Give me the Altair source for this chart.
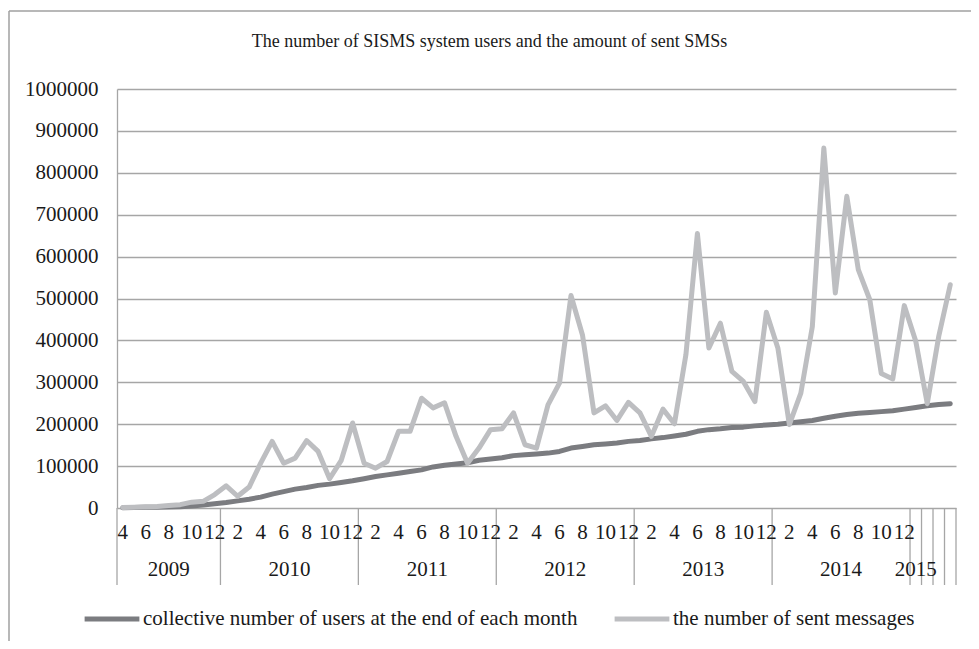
import altair as alt
import pandas as pd

# ---------------- data (Apr 2009 .. Apr 2015, 73 months) ----------------
users_label = "collective number of users at the end of each month"
msg_label = "the number of sent messages"

users = [
    500, 1000, 1500, 2000, 2500, 3000, 5000, 7000, 10000,                      # 2009 Apr-Dec
    13000, 17000, 21000, 26000, 33000, 39000, 45000, 49000, 54000, 57000, 61000, 65000,   # 2010
    70000, 75000, 79000, 83000, 87000, 91000, 98000, 102000, 105000, 108000, 114000, 117000,  # 2011
    120000, 125000, 127000, 129000, 131000, 135000, 143000, 147000, 151000, 153000, 155000, 159000,  # 2012
    161000, 165000, 168000, 172000, 176000, 183000, 187000, 189000, 192000, 193000, 196000, 198000,  # 2013
    200000, 203000, 206000, 209000, 214000, 219000, 223000, 226000, 228000, 230000, 232000, 236000,  # 2014
    240000, 244000, 247000, 249000,                                              # 2015 Jan-Apr
]

messages = [
    1000, 2000, 3000, 3500, 6000, 8000, 14000, 16000, 32000,
    53000, 28000, 50000, 107000, 159000, 107000, 119000, 161000, 135000, 70000, 113000, 203000,
    107000, 95000, 111000, 183000, 183000, 262000, 239000, 251000, 171000, 107000, 143000, 187000,
    189000, 227000, 151000, 143000, 246000, 298000, 507000, 413000, 227000, 244000, 209000, 252000,
    227000, 171000, 236000, 201000, 366000, 655000, 382000, 441000, 326000, 302000, 254000, 467000,
    382000, 199000, 274000, 433000, 859000, 513000, 744000, 569000, 497000, 321000, 308000, 483000,
    398000, 249000, 410000, 533000,
]

# shown month tick labels (every other category) and their category index
month_label_pos = [0, 2, 4, 6, 8, 10, 12, 14, 16, 18, 20, 22, 24, 26, 28, 30, 32,
                   34, 36, 38, 40, 42, 44, 46, 48, 50, 52, 54, 56, 58, 60, 62, 64, 66, 68]
month_labels = ["4", "6", "8", "10", "12",
                "2", "4", "6", "8", "10", "12",
                "2", "4", "6", "8", "10", "12",
                "2", "4", "6", "8", "10", "12",
                "2", "4", "6", "8", "10", "12",
                "2", "4", "6", "8", "10", "12"]

years = ["2009", "2010", "2011", "2012", "2013", "2014", "2015"]
year_pos = [4.0, 14.5, 26.5, 38.5, 50.5, 62.5, 69.0]

# group separators of the multi-level category axis
separators = [-0.5, 8.5, 20.5, 32.5, 44.5, 56.5, 68.5, 69.5, 70.5, 71.5, 72.5]

y_ticks = [0, 100000, 200000, 300000, 400000, 500000, 600000, 700000, 800000, 900000, 1000000]

# ---------------- chart ----------------
W, H = 839, 419
FONT = "Liberation Serif"
TXT = "#1a1a1a"
GRID = "#a6a6a6"

n = len(users)
df = pd.DataFrame({
    "idx": list(range(n)) * 2,
    "series": [users_label] * n + [msg_label] * n,
    "value": users + messages,
})

x_scale = alt.Scale(domain=[-0.5, 72.5], nice=False, zero=False)
y_scale = alt.Scale(domain=[0, 1000000], nice=False)

lines = alt.Chart(df).mark_line(
    strokeWidth=5, strokeCap="round", strokeJoin="round"
).encode(
    x=alt.X("idx:Q", scale=x_scale, axis=None),
    y=alt.Y("value:Q", scale=y_scale,
            axis=alt.Axis(values=y_ticks, format="d", title=None, grid=True, gridColor=GRID,
                          gridWidth=1.3, domainColor=GRID, domainWidth=1.3, ticks=False,
                          labelPadding=19, labelFont=FONT, labelFontSize=21, labelColor=TXT)),
    color=alt.Color(
        "series:N",
        scale=alt.Scale(domain=[users_label, msg_label], range=["#7b7c80", "#bdbec1"]),
        legend=alt.Legend(
            title=None, orient="none", legendX=-35, legendY=500, direction="horizontal",
            symbolType="stroke", symbolSize=3000, symbolStrokeWidth=5,
            labelFont=FONT, labelFontSize=21, labelColor=TXT, labelLimit=700,
            columnPadding=26, labelOffset=1,
        ),
    ),
)

sep_df = pd.DataFrame({"idx": separators})
seps = alt.Chart(sep_df).mark_rule(color=GRID, strokeWidth=1.3).encode(
    x=alt.X("idx:Q", scale=x_scale, axis=None),
    y=alt.value(H), y2=alt.value(H + 77),
)

mon_df = pd.DataFrame({"idx": month_label_pos, "label": month_labels})
mons = alt.Chart(mon_df).mark_text(font=FONT, fontSize=21, color=TXT, baseline="middle", align="center").encode(
    x=alt.X("idx:Q", scale=x_scale, axis=None),
    y=alt.value(H + 25),
    text=alt.Text("label:N"),
)

yr_df = pd.DataFrame({"idx": year_pos, "label": years})
yrs = alt.Chart(yr_df).mark_text(font=FONT, fontSize=21, color=TXT, baseline="middle", align="center").encode(
    x=alt.X("idx:Q", scale=x_scale, axis=None),
    y=alt.value(H + 62),
    text=alt.Text("label:N"),
)

# outer chart-area frame (left and top edges; the rest lies outside the picture)
frame_df = pd.DataFrame({"edge": ["left", "top"]})
frame_left = alt.Chart(frame_df).transform_filter(alt.datum.edge == "left").mark_rule(
    color="#a0a0a0", strokeWidth=1.5
).encode(x=alt.value(-108), y=alt.value(-78), y2=alt.value(H + 140))
frame_top = alt.Chart(frame_df).transform_filter(alt.datum.edge == "top").mark_rule(
    color="#a0a0a0", strokeWidth=1.5
).encode(x=alt.value(-108), x2=alt.value(W + 40), y=alt.value(-78))

chart = alt.layer(frame_left, frame_top, seps, lines, mons, yrs).properties(
    width=W, height=H,
    title=alt.Title("The number of SISMS system users and the amount of sent SMSs",
                    font=FONT, fontSize=18, fontWeight="normal", color=TXT,
                    anchor="middle", dx=-47, offset=-41),
    autosize=alt.AutoSizeParams(type="none"),
    padding={"left": 109, "top": 81, "right": 15, "bottom": 133},
).configure_view(stroke=None)

chart.save("out.html", embed_options={"renderer": "svg", "actions": False})
